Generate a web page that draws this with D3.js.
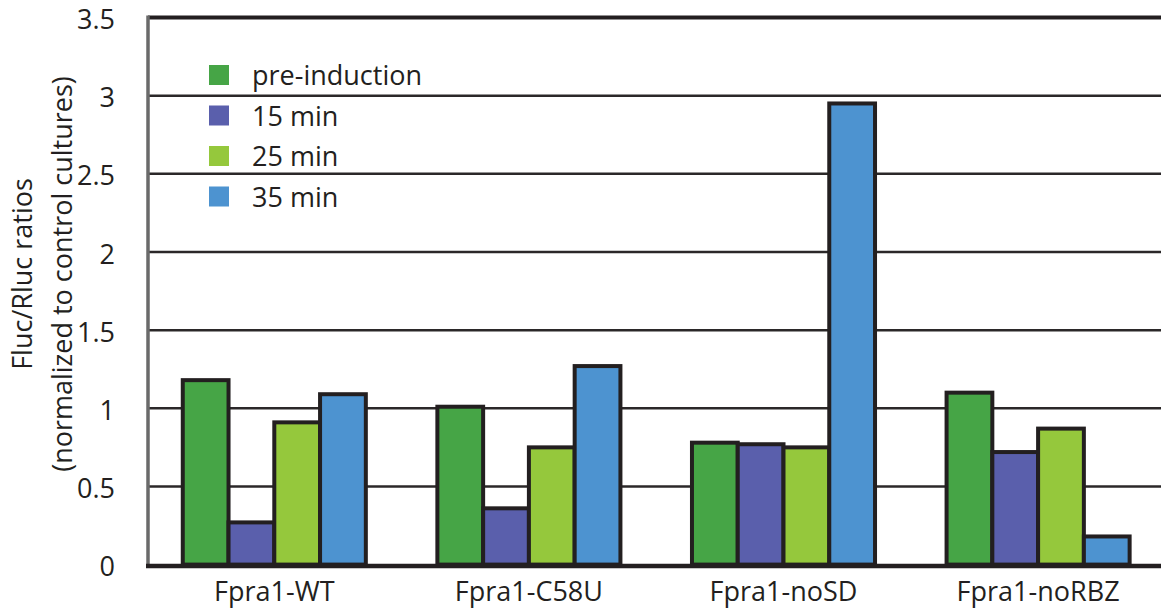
<!DOCTYPE html>
<html>
<head>
<meta charset="utf-8">
<script src="https://cdn.jsdelivr.net/npm/d3@7/dist/d3.min.js"></script>
<style>
  html, body { margin: 0; padding: 0; background: #fff; }
  svg { display: block; }
  text { font-family: "Open Sans", "Noto Sans", sans-serif; fill: #231f20; }
</style>
</head>
<body>
<svg id="chart" width="1161" height="609"></svg>
<script>
// Constructs and time points
const categories = ["Fpra1-WT", "Fpra1-C58U", "Fpra1-noSD", "Fpra1-noRBZ"];
const seriesNames = ["pre-induction", "15 min", "25 min", "35 min"];
const seriesColors = ["#46a546", "#5a5fac", "#95c83c", "#4d93d0"];

// Fluc/Rluc ratios per construct, one array per time point
const preInduction = [1.18, 1.01, 0.78, 1.10];
const min15 = [0.27, 0.36, 0.77, 0.72];
const min25 = [0.91, 0.75, 0.75, 0.87];
const min35 = [1.09, 1.27, 2.95, 0.18];
const seriesValues = [preInduction, min15, min25, min35];

const yTicks = [0, 0.5, 1, 1.5, 2, 2.5, 3, 3.5];
const yTickLabels = ["0", "0.5", "1", "1.5", "2", "2.5", "3", "3.5"];

const svg = d3.select("#chart");
const plotLeft = 148, plotTop = 17.5, plotBottom = 564.6;
const fontSize = "27px";

const x0 = d3.scaleBand().domain(categories).range([147, 1165.4])
  .paddingInner(0.281).paddingOuter(0.1405);
const x1 = d3.scaleBand().domain(seriesNames).range([0, x0.bandwidth()]);
const y = d3.scaleLinear().domain([0, 3.5]).range([plotBottom, plotTop]);

// Horizontal gridlines
svg.append("g").selectAll("line")
  .data(yTicks.filter(t => t > 0 && t < 3.5))
  .join("line")
  .attr("x1", plotLeft).attr("x2", 1161)
  .attr("y1", d => y(d)).attr("y2", d => y(d))
  .attr("stroke", "#2b2829").attr("stroke-width", 2.5);

// Top frame line
svg.append("line")
  .attr("x1", plotLeft).attr("x2", 1161)
  .attr("y1", y(3.5)).attr("y2", y(3.5))
  .attr("stroke", "#231f20").attr("stroke-width", 4);

// Y axis
const yAxis = d3.axisLeft(y).tickValues(yTicks)
  .tickFormat((d, i) => yTickLabels[i]).tickSize(0).tickPadding(33);
const gy = svg.append("g").attr("transform", `translate(${plotLeft},0)`).call(yAxis);
gy.select(".domain").remove();
gy.selectAll("text").style("font-size", fontSize).attr("dy", "0.41em")
  .attr("font-family", "'Open Sans', sans-serif").attr("fill", "#231f20");

svg.append("line")
  .attr("x1", plotLeft).attr("x2", plotLeft)
  .attr("y1", y(3.5) - 2).attr("y2", plotBottom + 2)
  .attr("stroke", "#6a6a6a").attr("stroke-width", 3.5);

// Bars
const groups = svg.append("g").selectAll("g")
  .data(categories)
  .join("g")
  .attr("transform", d => `translate(${x0(d)},0)`);

groups.selectAll("rect")
  .data((c, ci) => seriesNames.map((s, si) => ({ s, si, v: seriesValues[si][ci] })))
  .join("rect")
  .attr("x", d => x1(d.s))
  .attr("width", x1.bandwidth())
  .attr("y", d => y(d.v))
  .attr("height", d => y(0) - y(d.v))
  .attr("fill", d => seriesColors[d.si])
  .attr("stroke", "#231f20")
  .attr("stroke-width", 4);

// Baseline
svg.append("line")
  .attr("x1", plotLeft - 2).attr("x2", 1161)
  .attr("y1", plotBottom + 1.5).attr("y2", plotBottom + 1.5)
  .attr("stroke", "#231f20").attr("stroke-width", 4.5);

// X axis labels
const xAxis = d3.axisBottom(x0).tickSize(0).tickPadding(17);
const gx = svg.append("g").attr("transform", `translate(0,${plotBottom})`).call(xAxis);
gx.select(".domain").remove();
gx.selectAll("text").style("font-size", fontSize)
  .attr("font-family", "'Open Sans', sans-serif").attr("fill", "#231f20");

// Y axis title
const title = svg.append("text")
  .attr("transform", "translate(0,274) rotate(-90)")
  .attr("text-anchor", "middle")
  .style("font-size", fontSize);
title.append("tspan").attr("x", 0).attr("y", 32).text("Fluc/Rluc ratios");
title.append("tspan").attr("x", 0).attr("y", 72).text("(normalized to control cultures)");

// Legend
const legend = svg.append("g").attr("transform", "translate(209,65)");
const items = legend.selectAll("g").data(seriesNames).join("g")
  .attr("transform", (d, i) => `translate(0,${i * 40.5})`);
items.append("rect").attr("width", 20).attr("height", 20)
  .attr("fill", (d, i) => seriesColors[i]);
items.append("text").attr("x", 43).attr("y", 20)
  .style("font-size", fontSize).text(d => d);
</script>
</body>
</html>
